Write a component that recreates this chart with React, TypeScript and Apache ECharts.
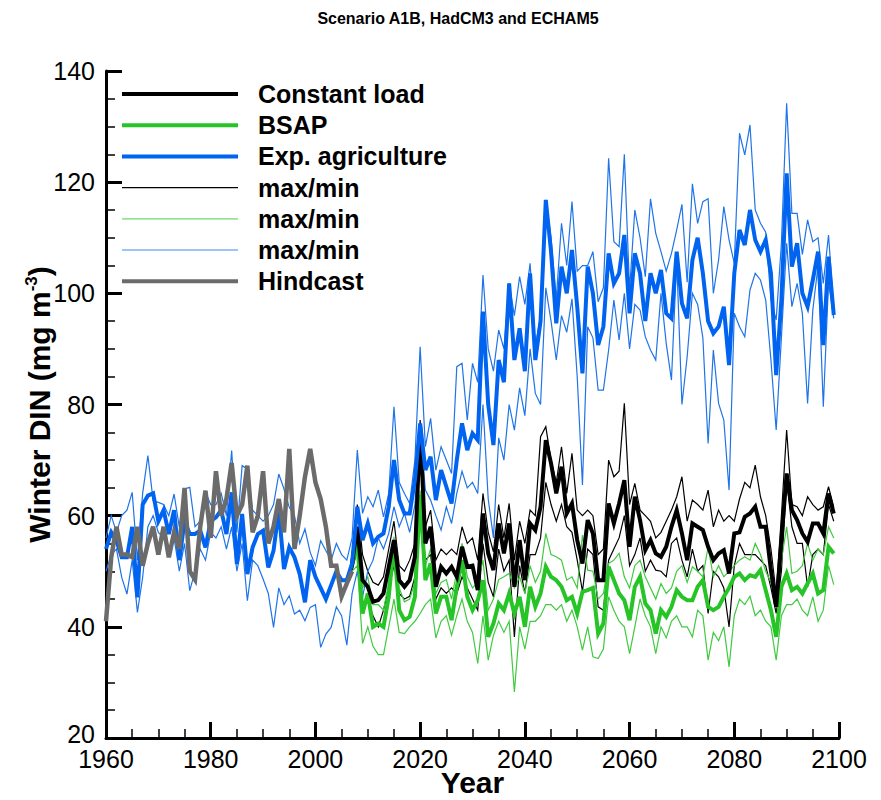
import React, { useEffect, useRef } from "react";
import * as echarts from "echarts";

// Winter DIN (mg m-3), annual values
const HINDCAST_START = 1960;
const hindcast = [
  41, 52.5, 58, 53, 53, 52.5, 58, 51, 55, 58,
  53, 58, 52.5, 57, 54, 65, 50, 48.5, 58, 64.5,
  56, 68, 60, 63, 69.5, 60, 62, 69, 57, 60,
  68, 55, 58, 63, 57, 72, 54, 60, 67, 72,
  66, 63, 58, 51, 51, 45.5, 47.8, 50,
];

const AGRI_START = 1960;
const expAgriculture = [
  54, 57, 55.5, 52.5, 52.5, 58, 45.3, 62, 63.6, 64,
  59, 61, 56.7, 61, 52, 59, 56.7, 56.7, 57.3, 54.3,
  59, 59.7, 61, 56.7, 64.2, 51.3, 60.3, 49.5, 54.3, 56.7,
  57.3, 50.7, 53.7, 61, 50.4, 54.3, 52.5, 49.5, 44.4, 52,
  49, 47, 45, 47.5, 50, 48.4, 48.4, 51.4, 61.6, 55.6,
  58.6, 55, 56.2, 56.8, 61.6, 70, 62.8, 60.4, 60.4, 66.4,
  76.6, 68.2, 70.6, 62.8, 68.2, 65.2, 62.2, 70, 76.6, 71.8,
  74.8, 73.6, 96.7, 80, 72.7, 88, 84, 101.8, 88, 93.7,
  86, 103.6, 88, 95, 116.8, 107.5, 94.6, 104.8, 100, 107.8,
  97.6, 85.6, 104.8, 100, 90.7, 94, 107.2, 101.8, 103.6, 110.5,
  96.4, 107.2, 103.6, 95, 103.6, 100, 104.2, 96.4, 95.5, 107.5,
  98.2, 95.5, 106, 110, 103.6, 95, 92.8, 94, 97.6, 87.1,
  103.6, 111.4, 108.7, 115, 109.6, 107.5, 109.6, 103.6, 85.3, 98.8,
  121.6, 104.8, 109, 100, 97.6, 102.4, 107.5, 90.7, 106.6, 96.1,
];
const expAgricultureMax = [
  56, 60, 57, 60, 61, 64.2, 52, 64, 70.8, 62.7,
  62.4, 62, 60, 63.9, 58, 64.8, 65.1, 58, 59, 64.2,
  62, 62, 64, 60, 71.7, 57, 69, 68.4, 61, 60,
  59, 60, 62, 67.5, 64.8, 61.5, 60, 55, 57.6, 53.4,
  51, 55.5, 53.7, 52, 55, 53, 52, 56, 71.8, 60.4,
  63.4, 61.6, 64.6, 59.8, 64, 79.6, 66, 64, 62.2, 70,
  90.4, 72.4, 77.5, 68.2, 72.4, 70, 67.6, 86.8, 87.4, 77.2,
  87.4, 84, 103.3, 90, 86, 93.4, 90, 101.8, 96, 103,
  98, 105.4, 90.4, 96, 116.8, 110, 99, 112.6, 105, 116.5,
  104, 105, 105, 107.5, 98.5, 101, 124.3, 109.3, 108.4, 125,
  100.6, 115, 110, 103, 117, 110.8, 107.5, 104, 107.2, 111.4,
  116, 102, 119.7, 112.6, 116.5, 117, 100, 106, 115.6, 109.6,
  105.4, 128.8, 124.9, 130.3, 115, 112.6, 111, 98.8, 95.2, 109,
  134.2, 114.4, 114.4, 107, 113.2, 109.3, 110, 101.8, 110.5, 97,
];
const expAgricultureMin = [
  50, 53, 54, 48.9, 45.9, 52, 42.6, 48.9, 58, 60,
  57, 56, 54, 56, 50, 55, 46.5, 50, 54, 52,
  57, 56, 58, 54, 58, 50, 55, 44.7, 52, 51,
  48.6, 46, 39.9, 47, 44, 45.6, 42.3, 43, 41.1, 43.5,
  44, 36.3, 38.7, 39.9, 43.6, 42, 36.7, 46, 50, 45.4,
  50, 52, 56, 54, 56.8, 61.6, 58, 60.4, 57, 62,
  75.4, 64.6, 62.8, 60, 57.4, 61.6, 58.6, 64, 68, 65,
  66, 64, 80, 63, 56, 74, 70, 80, 75.4, 83,
  78, 90, 82, 80, 101, 95, 88, 96, 93, 99,
  85, 65.5, 94, 92, 82.6, 82.6, 89.8, 98.8, 91.6, 100,
  90, 98, 97, 92.2, 89.8, 88, 100, 91, 84.4, 106,
  80, 88.6, 100, 98, 92, 73, 89.8, 80.2, 77.2, 64.6,
  96.4, 94, 92.2, 100.6, 103.6, 102.4, 98.8, 88, 75.4, 92,
  109, 97.6, 101.8, 96.4, 80.2, 97, 105, 79.6, 102, 95.5,
];

const SCEN_START = 2007;
const constantLoad = [
  51.4, 58, 48.4,
  47.2, 44.5, 44.8, 46, 50.8, 55.6, 48.4, 47.2, 48.4, 52.6,
  76, 55, 58, 47.2, 50.8, 49.6, 50.8, 49, 54.4, 50.8,
  51, 46.6, 60.4, 53.2, 50.2, 58.6, 53.2, 58.6, 47.2, 55.6,
  48.4, 58.6, 57.4, 61.6, 73.6, 69.4, 64, 68.8, 60.4, 62.2,
  55.6, 51.4, 59.2, 56.8, 48.4, 48.4, 62.2, 58.6, 62.2, 66.4,
  54.4, 63.4, 59.2, 53.8, 55.6, 53.2, 52.6, 54.4, 58, 61,
  56.8, 52, 58.6, 58, 57.4, 54.4, 52, 53.2, 53.8, 49.6,
  56.8, 57, 59.8, 60.4, 61.6, 58, 58, 50.2, 43.6, 55.6,
  67.6, 61, 59.2, 56.8, 55.3, 58.6, 58.6, 56.8, 64, 60.4,
];
const constantLoadMax = [
  53, 62, 53,
  50, 48, 47.5, 49, 54, 59, 51, 50, 52, 55,
  77.2, 58, 61, 52, 54, 53, 54, 53, 58, 55,
  56, 52, 64, 57, 53.5, 62, 56, 62.2, 52, 59,
  55, 61, 60, 74.2, 76, 70, 66, 72.4, 64, 71.2,
  61, 60, 61, 60, 53, 54, 70, 67, 68, 80.2,
  62, 65.8, 61, 60, 59, 56, 57, 59, 61, 63.4,
  67, 59, 62.8, 62, 61, 64.6, 58, 61, 59, 60,
  59, 63, 66, 65, 69.1, 63.4, 60, 54, 46, 60,
  75.4, 62, 61.6, 60, 63.4, 62, 61, 61.6, 65.2, 61.5,
];
const constantLoadMin = [
  50, 54, 44,
  44.5, 42, 40, 43, 47, 51, 46, 45, 45.5, 49,
  62, 52, 53, 45, 47, 46, 47, 46, 49, 47,
  45, 43, 55, 48, 45.4, 54, 50, 52, 38.2, 51,
  46, 53, 53, 56, 66, 62, 59, 62, 58, 57,
  52, 46.4, 54, 53, 43.6, 43, 52, 54, 56, 60,
  51, 53, 56, 50, 52, 50.2, 50, 49, 55, 56,
  52, 49, 54, 50, 51, 42.4, 50, 49, 47, 40,
  51, 55, 53, 53, 53, 52, 51, 47, 42.4, 50,
  66.4, 58, 55, 55, 47.2, 53, 54, 53, 62, 59,
];

const bsap = [
  51.4, 55, 42.4,
  46, 40, 40.6, 40, 45.4, 55, 43, 41.2, 41.8, 45.4,
  63.7, 48.4, 51.4, 42.4, 45.4, 45.4, 41.2, 47.2, 52, 45.4,
  43, 44.8, 48.4, 38.2, 40.6, 44.2, 43, 46, 42.4, 45.4,
  40, 47.2, 43.6, 46, 50.8, 49, 48.4, 47.2, 44.8, 45.4,
  42.4, 46.3, 46.6, 47, 38.8, 40.6, 50.8, 48.4, 46, 44.8,
  41.2, 47.2, 49, 44.2, 43, 38.8, 43, 41.8, 43.6, 46.6,
  45.4, 44.8, 44.8, 47.2, 48.4, 43.6, 43, 43.6, 45.4, 47,
  49, 49.6, 48.4, 49.3, 49, 50.2, 46.6, 43, 38.2, 47.2,
  49.6, 46.6, 47.2, 46, 47.8, 49.6, 46, 46.6, 54.4, 53.2,
];
const bsapMax = [
  53, 58, 47,
  49, 44, 44, 43, 48, 56.2, 47, 44.5, 45, 48,
  64.5, 51, 54, 46, 48, 48.5, 45, 50, 55, 49,
  47, 48, 52, 43, 45, 48.5, 49, 49.6, 47, 49,
  46, 51, 48, 50, 56.8, 53, 52.6, 52, 48.4, 49,
  47, 56.5, 50.2, 50, 45, 46, 51.4, 52, 53.2, 49,
  47, 51, 52, 49, 47, 45, 47.8, 46, 47, 50,
  51, 48, 50.8, 50, 49, 54.4, 49, 51, 49, 50,
  51, 52, 52.6, 52, 55, 53, 50, 48, 44, 52,
  58, 49.6, 50, 51, 55, 52, 54, 53, 58, 56,
];
const bsapMin = [
  50, 51, 37,
  40, 36.5, 35, 35, 40, 45, 39, 38.8, 40, 41,
  42.4, 44, 45, 38, 41, 42, 38.5, 42, 45, 41,
  39, 33.4, 42, 34, 38.5, 41, 39, 41, 28.3, 40,
  36, 41, 41, 42, 44, 44, 43, 44, 41, 43,
  40, 35.8, 40, 34.6, 34.3, 36, 45.4, 43, 41, 40,
  35.2, 40, 45, 42, 40, 35.2, 40, 38, 41, 42,
  40, 40, 38.2, 43, 42, 34, 39, 37.5, 40, 32.8,
  42, 45, 44, 45.5, 42, 43, 41, 40, 34, 42,
  44, 44, 45, 43, 42, 45.4, 41, 43, 51, 47.6,
];

const X_TICKS = { min: 1960, max: 2100, step: 20 };
const Y_TICKS = { min: 20, max: 140, step: 20 };

const FONT = '"Liberation Sans", Arial, Helvetica, sans-serif';

const BLACK = "#000000";
const GREEN = "#26c426";
const GREEN_THIN = "#3fca3f";
const BLUE = "#0064f0";
const BLUE_THIN = "#1f74e8";
const GRAY = "#6b6b6b";

const toPairs = (start: number, values: number[]) =>
  values.map((v, i) => [start + i, v]);

const legendRows = [
  { label: "Constant load", color: BLACK, width: 4 },
  { label: "BSAP", color: GREEN, width: 4 },
  { label: "Exp. agriculture", color: BLUE, width: 4 },
  { label: "max/min", color: BLACK, width: 1.2 },
  { label: "max/min", color: "#6fd66f", width: 1.2 },
  { label: "max/min", color: "#3d8af0", width: 1.2 },
  { label: "Hindcast", color: GRAY, width: 4 },
];

function line(name: string, start: number, values: number[], color: string, width: number, z: number) {
  return {
    type: "line",
    name,
    data: toPairs(start, values),
    showSymbol: false,
    symbol: "none",
    lineStyle: { color, width, join: "miter" },
    itemStyle: { color },
    z,
  };
}

export default function App() {
  const ref = useRef<HTMLDivElement>(null);

  useEffect(() => {
    if (!ref.current) return;
    const chart = echarts.init(ref.current, undefined, { renderer: "svg" });

    const legendTop = 94;
    const legendStep = 31.2;
    const graphic: any[] = [];
    legendRows.forEach((row, i) => {
      const y = legendTop + i * legendStep;
      graphic.push({
        type: "line",
        shape: { x1: 122, y1: y, x2: 238, y2: y },
        style: { stroke: row.color, lineWidth: row.width },
        z: 100,
      });
      graphic.push({
        type: "text",
        x: 258,
        y,
        style: {
          text: row.label,
          fill: "#000",
          fontSize: 25,
          fontWeight: "bold",
          fontFamily: FONT,
          verticalAlign: "middle",
          align: "left",
        },
        z: 100,
      });
    });
    graphic.push({
      type: "text",
      x: 458,
      y: 18,
      style: {
        text: "Scenario A1B, HadCM3 and ECHAM5",
        fill: "#000",
        fontSize: 16,
        fontWeight: "bold",
        fontFamily: FONT,
        align: "center",
        verticalAlign: "middle",
      },
    });

    const axisCommon = {
      type: "value",
      axisLine: { show: true, onZero: false, lineStyle: { color: "#000", width: 3 } },
      axisTick: { show: true, inside: true, length: 16, lineStyle: { color: "#000", width: 3 } },
      minorTick: { show: true, splitNumber: 4, length: 9, lineStyle: { color: "#000", width: 1.5 } },
      splitLine: { show: false },
      minorSplitLine: { show: false },
      nameMoveOverlap: false,
    };

    chart.setOption({
      animation: false,
      backgroundColor: "#fff",
      grid: {
        left: 106,
        right: 42,
        top: 71,
        bottom: 62,
        containLabel: false,
        outerBoundsMode: "none",
      },
      xAxis: {
        ...axisCommon,
        min: X_TICKS.min,
        max: X_TICKS.max,
        interval: X_TICKS.step,
        axisLabel: {
          color: "#000",
          fontSize: 25,
          fontFamily: FONT,
          margin: 8,
          formatter: (v: number) => String(v),
        },
        name: "Year",
        nameLocation: "middle",
        nameGap: 29,
        nameTextStyle: { color: "#000", fontSize: 30, fontWeight: "bold", fontFamily: FONT },
      },
      yAxis: {
        ...axisCommon,
        min: Y_TICKS.min,
        max: Y_TICKS.max,
        interval: Y_TICKS.step,
        axisLabel: {
          color: "#000",
          fontSize: 25,
          fontFamily: FONT,
          margin: 11,
          formatter: (v: number) => (v === Y_TICKS.min ? "{low|" + v + "}" : String(v)),
          rich: {
            low: { fontSize: 25, fontFamily: FONT, color: "#000", padding: [0, 0, 8, 0] },
          },
        },
        name: "{a|Winter DIN (mg m}{s|-3}{a|)}",
        nameLocation: "middle",
        nameGap: 50,
        nameTextStyle: {
          color: "#000",
          rich: {
            a: { fontSize: 30, fontWeight: "bold", fontFamily: FONT, color: "#000" },
            s: { fontSize: 17, fontWeight: "bold", fontFamily: FONT, color: "#000", padding: [0, 0, 16, 0] },
          },
        },
      },
      graphic,
      series: [
        line("Constant load max", SCEN_START, constantLoadMax, BLACK, 1.2, 2),
        line("Constant load min", SCEN_START, constantLoadMin, BLACK, 1.2, 2),
        line("BSAP max", SCEN_START, bsapMax, GREEN_THIN, 1.2, 2),
        line("BSAP min", SCEN_START, bsapMin, GREEN_THIN, 1.2, 2),
        line("Exp. agriculture max", AGRI_START, expAgricultureMax, BLUE_THIN, 1.2, 2),
        line("Exp. agriculture min", AGRI_START, expAgricultureMin, BLUE_THIN, 1.2, 2),
        line("BSAP", SCEN_START, bsap, GREEN, 4, 3),
        line("Constant load", SCEN_START, constantLoad, BLACK, 4, 3),
        line("Exp. agriculture", AGRI_START, expAgriculture, BLUE, 4, 3),
        line("Hindcast", HINDCAST_START, hindcast, GRAY, 4.5, 4),
      ],
    });

    return () => chart.dispose();
  }, []);

  return (
    <div
      ref={ref}
      style={{ position: "absolute", left: 0, top: 0, width: 881, height: 800, background: "#fff" }}
    />
  );
}
